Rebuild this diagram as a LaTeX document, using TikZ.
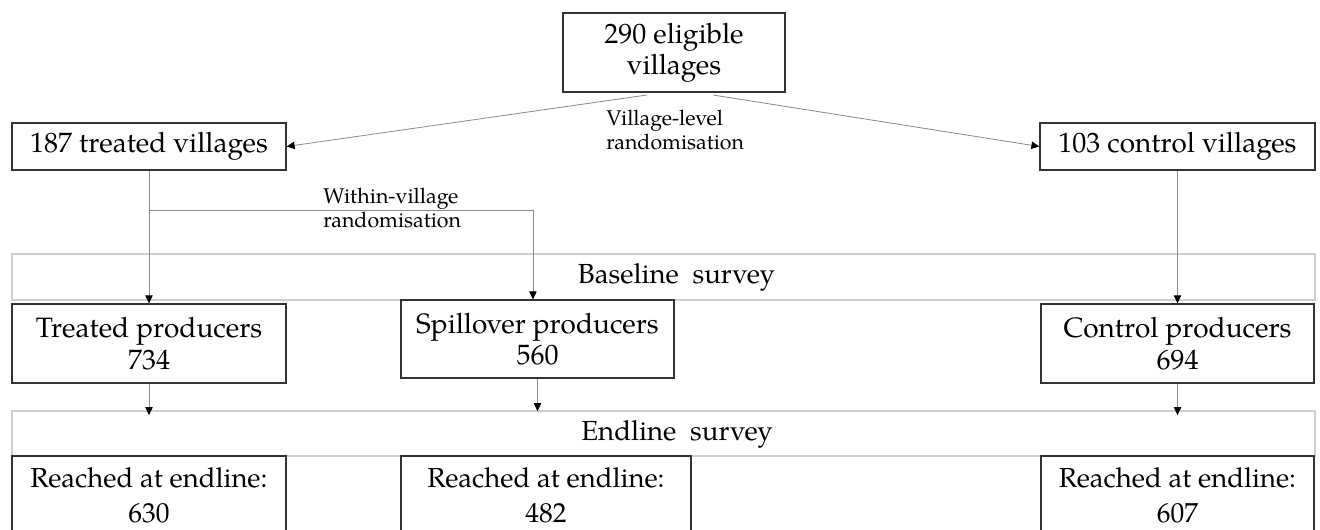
\documentclass[tikz,border=0pt]{standalone}
\usepackage{fontspec}
\setmainfont{texgyrepagella}[Extension=.otf, UprightFont=*-regular, BoldFont=*-bold, ItalicFont=*-italic, BoldItalicFont=*-bolditalic]
\usetikzlibrary{arrows.meta,calc}
\definecolor{boxline}{HTML}{333333}
\definecolor{connline}{HTML}{8A8A8A}
\definecolor{bandline}{HTML}{CFCFCF}
\begin{document}
\begin{tikzpicture}[x=0.75pt,y=-0.75pt,
  box/.style={draw=boxline, line width=0.9pt, fill=white, inner sep=0pt, align=center,
    font=\fontsize{21}{23.5}\selectfont},
  band/.style={draw=bandline, line width=1.3pt, inner sep=0pt},
  bandtext/.style={inner sep=0pt, font=\fontsize{20.7}{24}\selectfont},
  note/.style={inner sep=0pt, align=left, font=\fontsize{16}{17.5}\selectfont},
  conn/.style={draw=connline, line width=0.6pt},
  arr/.style={conn, -{Triangle[length=6pt,width=5.5pt,color=black]}}]
\clip (0,0) rectangle (1320,529);
\fill[white] (0,0) rectangle (1320,529);

% survey bands
\node[band, minimum width=977.25pt, minimum height=34.5pt] (bband) at (663.5,277) {};
\node[bandtext] (btext) at (676.5,277) {Baseline\ \ survey};
\node[band, minimum width=977.25pt, minimum height=33.75pt] (eband) at (663.5,433.5) {};
\node[bandtext] (etext) at (677,434) {Endline\ \ survey};

% boxes
\node[box, minimum width=166.5pt, minimum height=59.25pt] (top) at (674,52.5) {290 eligible\\villages};
\node[box, minimum width=205.5pt, minimum height=35.25pt] (tv) at (149,146.5) {187 treated villages};
\node[box, minimum width=206.25pt, minimum height=35.25pt] (cv) at (1177.5,146.5) {103 control villages};

\node[box, minimum width=205.5pt, minimum height=59.25pt] (tp) at (149,343.5) {Treated producers\\734};
\node[box, minimum width=204.75pt, minimum height=58.5pt] (sp) at (537.5,339) {Spillover producers\\560};
\node[box, minimum width=204.75pt, minimum height=59.25pt] (cp) at (1177.5,343.5) {Control producers\\694};

\node[box, minimum width=205.5pt, minimum height=59.25pt, font=\fontsize{20.6}{26}\selectfont] (r1) at (149,495.5) {Reached at endline:\\630};
\node[box, minimum width=217.5pt, minimum height=59.25pt, font=\fontsize{20.6}{26}\selectfont] (r2) at (546,495.5) {Reached at endline:\\482};
\node[box, minimum width=204.75pt, minimum height=59.25pt, font=\fontsize{20.6}{26}\selectfont] (r3) at (1177.5,495.5) {Reached at endline:\\607};

% notes
\node[note, anchor=north west] (vlr) at (606,110) {Village-level\\randomisation};
\node[note, anchor=north west] (wvr) at (323,188) {Within-village\\randomisation};

% connectors
\coordinate (topL) at (647,95);
\coordinate (topR) at (713,95);
\draw[arr] (topL) -- (tv.east);
\draw[arr] (topR) -- (cv.west);

\coordinate (branch) at (149,210);
\draw[arr] (tv.south) -- (tp.north);
\draw[arr] (branch) -| ([xshift=-3.4pt]sp.north);
\draw[arr] (cv.south) -- (cp.north);

\draw[arr] (tp.south) -- ([yshift=-3.75pt]tp.south |- eband.north);
\draw[arr] (sp.south) -- ([yshift=-0.75pt]sp.south |- eband.north);
\draw[arr] (cp.south) -- ([yshift=-3.75pt]cp.south |- eband.north);
\end{tikzpicture}
\end{document}
